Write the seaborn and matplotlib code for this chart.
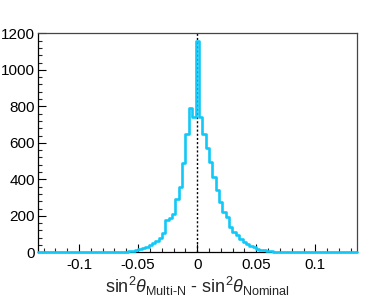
import numpy as np
import matplotlib
matplotlib.use("Agg")
import matplotlib.pyplot as plt
from matplotlib.ticker import MultipleLocator, FuncFormatter
import seaborn as sns

# histogram range and number of bins
x_lo = -0.135
x_hi = 0.135
n_bins = 95

# counts, left tail -> peak -> right tail
left_counts = [0] * 20 + [1, 1, 1, 2, 2, 3, 4, 6, 9, 12, 16, 22, 31, 40, 49, 60, 77,
                          105, 175, 190, 208, 294, 360, 490, 650, 789, 740]
peak_count = [1160]
right_counts = [740, 648, 570, 493, 411, 341, 274, 219, 192, 137, 113, 95, 75, 56, 47,
                35, 27, 18, 12, 10, 7, 5, 4, 3, 2, 2, 1, 1] + [0] * 19
counts = left_counts + peak_count + right_counts

edges = np.linspace(x_lo, x_hi, n_bins + 1)
centers = 0.5 * (edges[:-1] + edges[1:])

sns.set_style("ticks")
plt.rcParams['font.family'] = ['Liberation Sans', 'DejaVu Sans']
plt.rcParams['axes.unicode_minus'] = False
plt.rcParams['mathtext.fontset'] = 'custom'
plt.rcParams['mathtext.rm'] = 'Liberation Sans'
plt.rcParams['mathtext.it'] = 'Liberation Sans:italic'

fig = plt.figure(figsize=(3.74, 3.03), dpi=100)
ax = fig.add_axes([37.7 / 374, 1 - 252.3 / 303, (356.7 - 37.7) / 374, (252.3 - 33.3) / 303])

sns.histplot(x=centers, weights=counts, bins=n_bins, binrange=(x_lo, x_hi),
             element="step", fill=False, color="#12c8f6", linewidth=1.9, ax=ax)
for ln in ax.lines:
    ln.set_clip_on(False)
    ln.set_zorder(3)

ax.axvline(0, color="black", linestyle=(0, (1.5, 1.5)), linewidth=1.0, zorder=2)

ax.set_xlim(x_lo, x_hi)
ax.set_ylim(0, 1200)

ax.xaxis.set_major_locator(MultipleLocator(0.05))
ax.xaxis.set_minor_locator(MultipleLocator(0.01))
ax.yaxis.set_major_locator(MultipleLocator(200))
ax.yaxis.set_minor_locator(MultipleLocator(40))
ax.xaxis.set_major_formatter(FuncFormatter(lambda v, p: "%g" % round(v, 3)))
ax.yaxis.set_major_formatter(FuncFormatter(lambda v, p: "%d" % v))

ax.tick_params(axis="both", which="major", direction="in", length=6, width=0.8,
               labelsize=11, colors="black")
ax.tick_params(axis="both", which="minor", direction="in", length=3, width=0.8)
ax.tick_params(axis="y", pad=2)
ax.tick_params(axis="x", pad=4)

for s in ["top", "right"]:
    ax.spines[s].set_visible(True)
    ax.spines[s].set_color("#444444")
    ax.spines[s].set_linewidth(0.9)
for s in ["left", "bottom"]:
    ax.spines[s].set_color("black")
    ax.spines[s].set_linewidth(0.9)

ax.set_ylabel("")
ax.set_xlabel(r"sin$^{2}\theta_{\text{Multi-N}}$ - sin$^{2}\theta_{\text{Nominal}}$",
              fontsize=13, labelpad=2)

fig.savefig("out.png", dpi=100)
